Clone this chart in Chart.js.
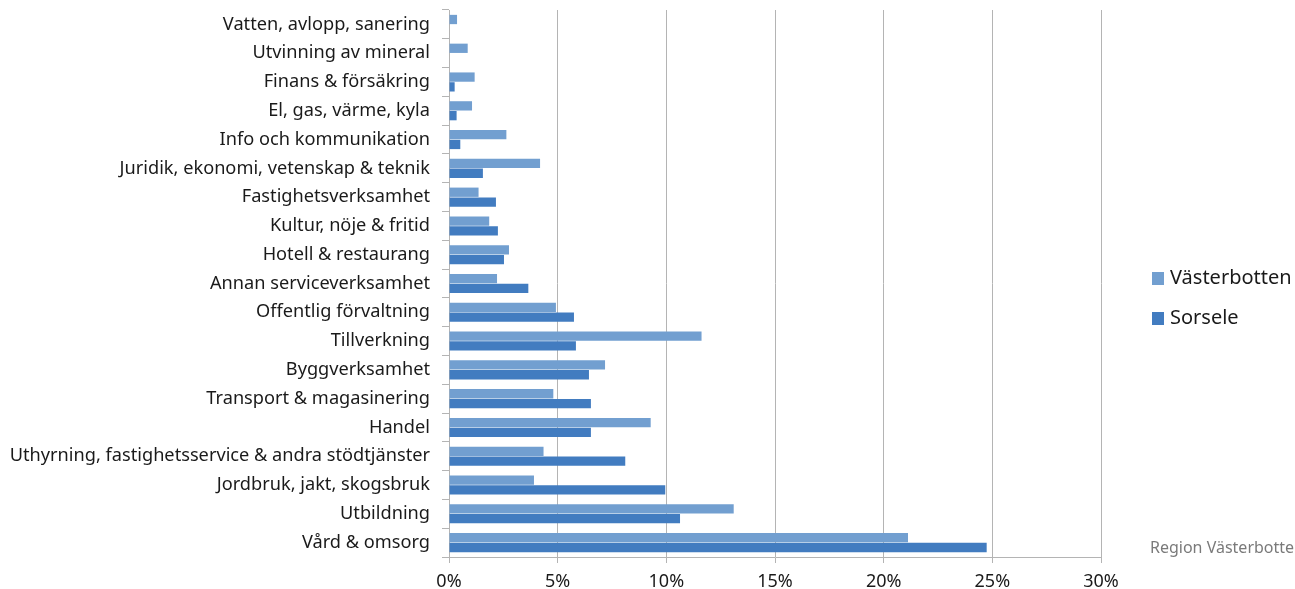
<!DOCTYPE html>
<html>
<head>
<meta charset="utf-8">
<script src="https://cdn.jsdelivr.net/npm/chart.js@4.4.1/dist/chart.umd.min.js"></script>
<style>
  html, body { margin: 0; padding: 0; background: #fff; }
  #wrap { width: 1295px; height: 589px; position: relative; }
</style>
</head>
<body>
<div id="wrap"><canvas id="myChart"></canvas></div>
<script>
/* branscher, uppifrån och ned */
const categories = [
    "Vatten, avlopp, sanering",
    "Utvinning av mineral",
    "Finans & försäkring",
    "El, gas, värme, kyla",
    "Info och kommunikation",
    "Juridik, ekonomi, vetenskap & teknik",
    "Fastighetsverksamhet",
    "Kultur, nöje & fritid",
    "Hotell & restaurang",
    "Annan serviceverksamhet",
    "Offentlig förvaltning",
    "Tillverkning",
    "Byggverksamhet",
    "Transport & magasinering",
    "Handel",
    "Uthyrning, fastighetsservice & andra stödtjänster",
    "Jordbruk, jakt, skogsbruk",
    "Utbildning",
    "Vård & omsorg"
];
const vasterbotten = [0.37, 0.86, 1.18, 1.06, 2.64, 4.19, 1.36, 1.85, 2.76, 2.21, 4.92, 11.62, 7.18, 4.8, 9.28, 4.35, 3.91, 13.1, 21.12];
const sorsele = [0, 0, 0.26, 0.35, 0.52, 1.56, 2.16, 2.25, 2.53, 3.65, 5.75, 5.84, 6.44, 6.53, 6.53, 8.11, 9.95, 10.63, 24.74];
const xTicks = [0, 5, 10, 15, 20, 25, 30];
const seriesNames = ["Västerbotten", "Sorsele"];
const sourceText = "Region Västerbotten";

const colV = "rgb(114,159,208)";
const colS = "rgb(66,124,192)";
const gridCol = "#b4b4b4";
const font = "'Noto Sans', 'Open Sans', sans-serif";

/* egen legend + källa till höger */
const sideText = {
    id: "sideText",
    afterDraw(chart) {
        const ctx = chart.ctx;
        ctx.save();
        ctx.textBaseline = "middle";
        ctx.textAlign = "left";
        ctx.font = "20px " + font;
        const ys = [278, 318];
        chart.data.datasets.forEach((ds, i) => {
            ctx.fillStyle = ds.backgroundColor;
            ctx.fillRect(1152, ys[i] - 6, 12, 13);
            ctx.fillStyle = "#1a1a1a";
            ctx.fillText(ds.label, 1170, ys[i]);
        });
        ctx.font = "16px " + font;
        ctx.fillStyle = "#7a7a7a";
        ctx.fillText(sourceText, 1150, 548);
        ctx.restore();
    }
};

const data = {
    labels: categories,
    datasets: [
        {
            label: seriesNames[0],
            data: vasterbotten,
            backgroundColor: colV,
            borderWidth: 0,
            categoryPercentage: 0.68,
            barPercentage: 0.95,
        },
        {
            label: seriesNames[1],
            data: sorsele,
            backgroundColor: colS,
            borderWidth: 0,
            categoryPercentage: 0.68,
            barPercentage: 0.95,
        },
    ],
};

const config = {
    type: "bar",
    data: data,
    plugins: [sideText],
    options: {
        indexAxis: "y",
        responsive: true,
        maintainAspectRatio: false,
        animation: false,
        layout: { padding: { top: 10, right: 194, left: 0, bottom: 0 } },
        plugins: {
            legend: { display: false },
            tooltip: { enabled: false },
        },
        scales: {
            x: {
                min: 0,
                max: 30,
                afterBuildTicks: (scale) => {
                    scale.ticks = xTicks.map((v) => ({ value: v }));
                },
                afterFit: (scale) => {
                    scale.height = 32;
                    scale.paddingLeft = 0;
                    scale.paddingRight = 0;
                },
                ticks: {
                    color: "#1a1a1a",
                    font: { family: font, size: 18 },
                    padding: 8,
                    maxRotation: 0,
                    callback: (v) => v + "%",
                },
                grid: { color: gridCol, lineWidth: 1, tickLength: 6 },
                border: { color: gridCol },
            },
            y: {
                afterFit: (scale) => {
                    scale.width = 449;
                    scale.paddingTop = 0;
                    scale.paddingBottom = 0;
                },
                ticks: {
                    color: "#1a1a1a",
                    font: { family: font, size: 18.2 },
                    padding: 12,
                    autoSkip: false,
                },
                grid: { drawOnChartArea: false, offset: true, color: gridCol, tickLength: 7 },
                border: { color: gridCol },
            },
        },
    },
};
const myChart = new Chart(document.getElementById("myChart"), config);
</script>
</body>
</html>
